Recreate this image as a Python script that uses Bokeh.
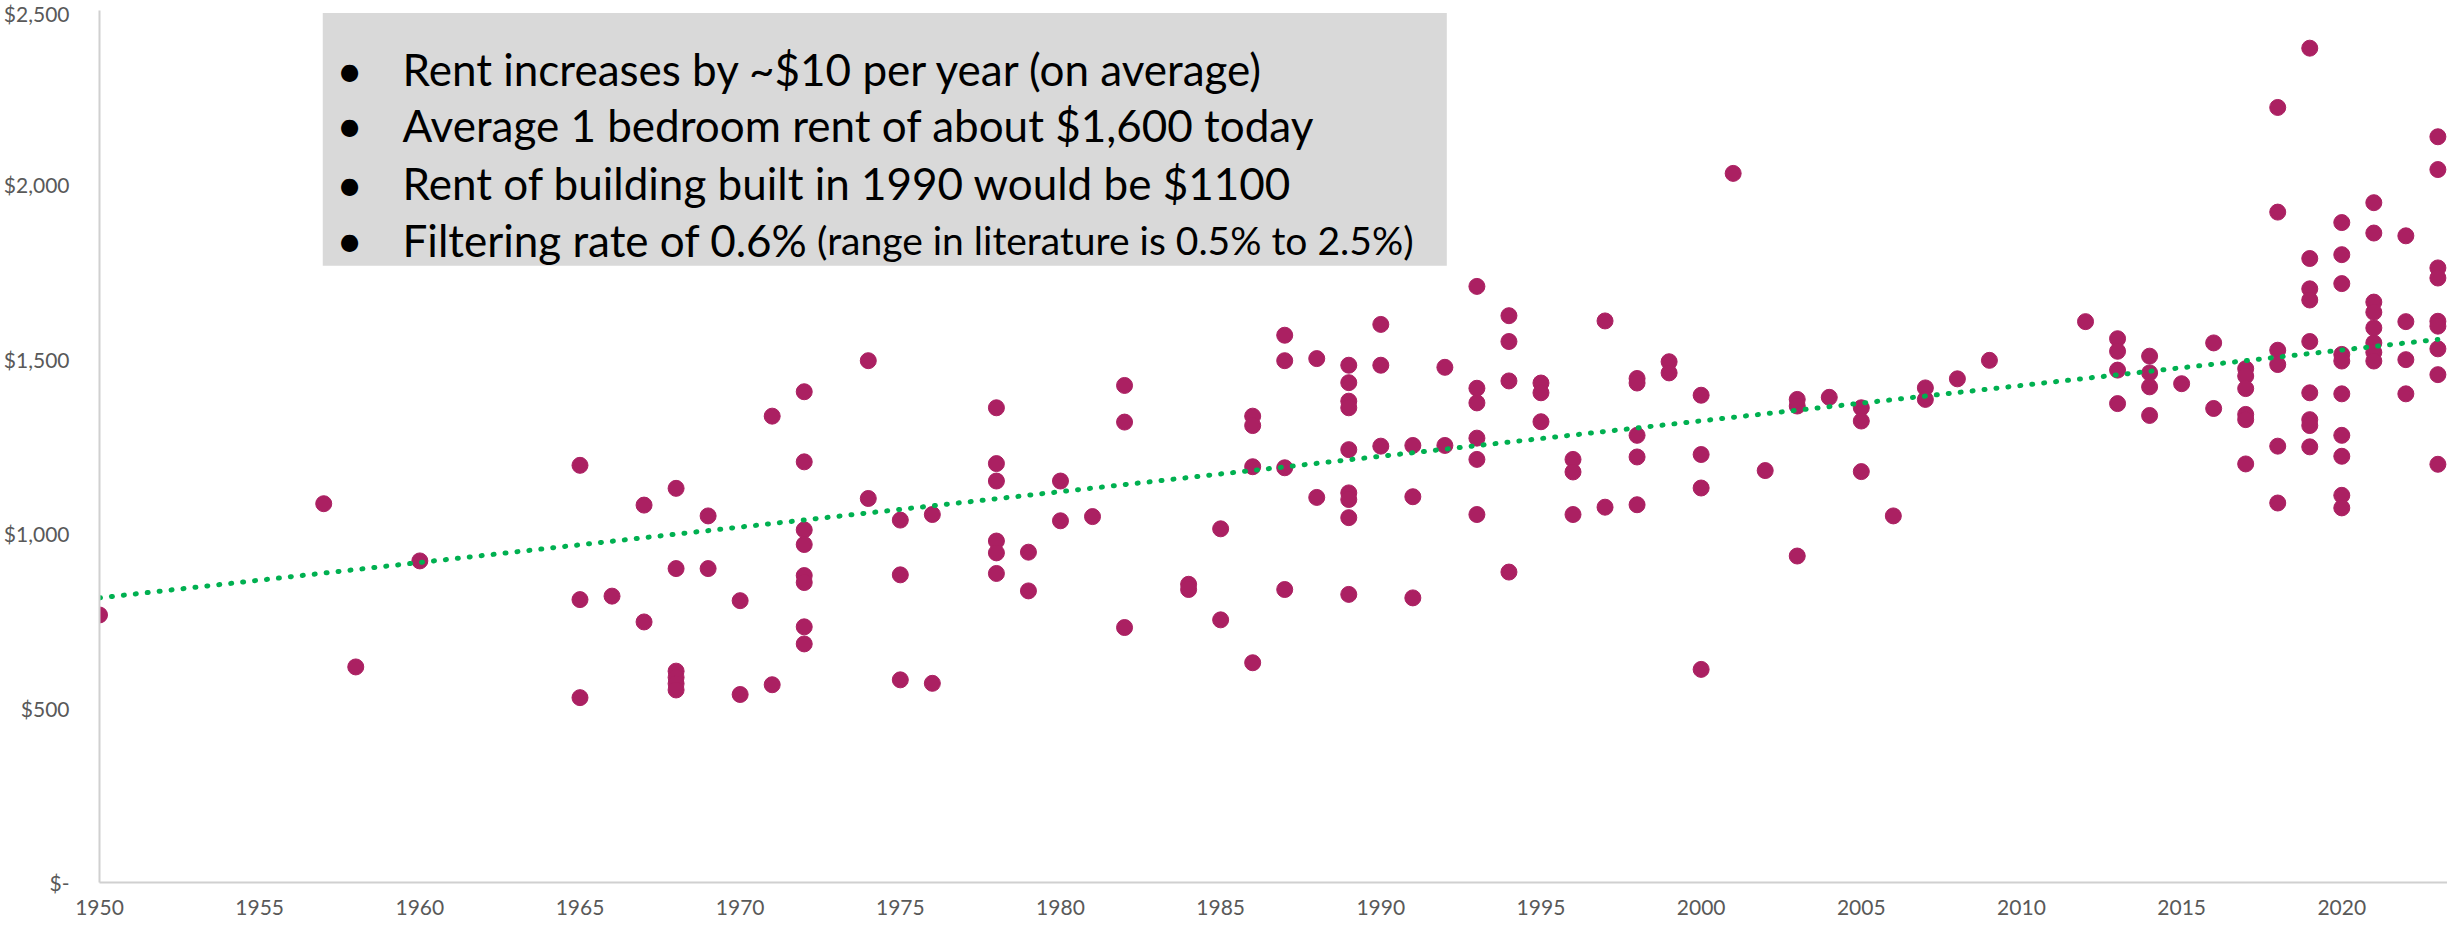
from bokeh.plotting import figure
from bokeh.models import Range1d, FixedTicker, BoxAnnotation, Label, ColumnDataSource
from bokeh.embed import file_html
from bokeh.resources import INLINE

# ---- data: build year vs. 1-bedroom rent ----
rent_by_year = {
    1950: [767],
    1957: [1086],
    1958: [618],
    1960: [922],
    1965: [1196, 811, 530],
    1966: [821],
    1967: [1082, 747],
    1968: [1130, 900, 606, 588, 570, 552],
    1969: [1051, 900],
    1970: [808, 539],
    1971: [1337, 567],
    1972: [1407, 1206, 1011, 969, 880, 860, 733, 684],
    1974: [1496, 1101],
    1975: [1039, 882, 581],
    1976: [1055, 571],
    1978: [1361, 1201, 1151, 979, 945, 886],
    1979: [947, 836],
    1980: [1151, 1037],
    1981: [1049],
    1982: [1425, 1320, 731],
    1984: [855, 840],
    1985: [1014, 753],
    1986: [1337, 1310, 1192, 630],
    1987: [1569, 1496, 1189, 840],
    1988: [1502, 1104],
    1989: [1483, 1433, 1380, 1361, 1241, 1117, 1098, 1046, 826],
    1990: [1600, 1483, 1251],
    1991: [1253, 1106, 816],
    1992: [1477, 1253],
    1993: [1709, 1417, 1375, 1274, 1213, 1055],
    1994: [1625, 1551, 1438, 890],
    1995: [1432, 1404, 1321],
    1996: [1213, 1177, 1055],
    1997: [1610, 1076],
    1998: [1445, 1432, 1282, 1220, 1083],
    1999: [1493, 1461],
    2000: [1397, 1227, 1131, 611],
    2001: [2033],
    2002: [1181],
    2003: [1385, 1366, 936],
    2004: [1391],
    2005: [1361, 1323, 1178],
    2006: [1051],
    2007: [1418, 1385],
    2008: [1444],
    2009: [1497],
    2012: [1608],
    2013: [1559, 1523, 1469, 1373],
    2014: [1509, 1461, 1421, 1339],
    2015: [1430],
    2016: [1547, 1359],
    2017: [1473, 1452, 1416, 1342, 1327, 1200],
    2018: [2222, 1922, 1526, 1485, 1251, 1088],
    2019: [2392, 1789, 1702, 1670, 1551, 1404, 1327, 1310, 1249],
    2020: [1892, 1800, 1717, 1514, 1495, 1401, 1282, 1222, 1110, 1074],
    2021: [1949, 1862, 1664, 1635, 1590, 1547, 1520, 1495],
    2022: [1854, 1608, 1499, 1401],
    2023: [2138, 2044, 1762, 1733, 1609, 1595, 1530, 1456, 1199],
}
years = [y for y, vals in rent_by_year.items() for _ in vals]
rents = [v for vals in rent_by_year.values() for v in vals]

# linear trendline as drawn in the original
trend_year = [1950, 2023]
trend_rent = [816, 1557]

x_ticks = [1950, 1955, 1960, 1965, 1970, 1975, 1980, 1985, 1990, 1995, 2000, 2005, 2010, 2015, 2020]
y_ticks = [0, 500, 1000, 1500, 2000, 2500]
y_tick_labels = ["$-", "$500", "$1,000", "$1,500", "$2,000", "$2,500"]

notes = [
    "Rent increases by ~$10 per year (on average)",
    "Average 1 bedroom rent of about $1,600 today",
    "Rent of building built in 1990 would be $1100",
    "Filtering rate of 0.6%",
]
note_small = "(range in literature is 0.5% to 2.5%)"

# ---- figure ----
p = figure(width=2447, height=918, output_backend="svg", toolbar_location=None,
           x_range=Range1d(1950, 2023.3), y_range=Range1d(0, 2500),
           min_border_left=91, min_border_right=0, min_border_top=10, min_border_bottom=36)
p.outline_line_color = None
p.xgrid.visible = False
p.ygrid.visible = False

for ax in (p.xaxis[0], p.yaxis[0]):
    ax.major_tick_line_color = None
    ax.minor_tick_line_color = None
    ax.axis_line_color = "#D0D0D0"
    ax.axis_line_width = 2
    ax.major_label_text_font = "Lato"
    ax.major_label_text_font_size = "21px"
    ax.major_label_text_color = "#595959"

p.xaxis.ticker = FixedTicker(ticks=x_ticks)
p.xaxis.major_label_standoff = 11
p.yaxis.ticker = FixedTicker(ticks=y_ticks)
p.yaxis.major_label_overrides = {t: l for t, l in zip(y_ticks, y_tick_labels)}
p.yaxis.major_label_standoff = 24

src = ColumnDataSource(dict(year=years, rent=rents))
p.scatter("year", "rent", source=src, size=16, fill_color="#AB2062", line_color="#AB2062")

p.line(trend_year, trend_rent, line_color="#00B050", line_width=5, line_dash="1 11", line_cap="round")

# note box
p.add_layout(BoxAnnotation(left=1956.97, right=1992.06, bottom=1768, top=2493,
                           fill_color="#D9D9D9", fill_alpha=1.0, line_color=None, line_alpha=0))
baselines = [2332, 2172, 2005, 1843]
for txt, yb in zip(notes, baselines):
    p.add_layout(Label(x=1957.81, y=yb, text="•", text_font="Lato", text_font_size="46px",
                       text_color="black", text_align="center", text_baseline="alphabetic"))
    p.add_layout(Label(x=1959.46, y=yb, text=txt, text_font="Lato", text_font_size="44px",
                       text_color="black", text_align="left", text_baseline="alphabetic"))
p.add_layout(Label(x=1972.40, y=baselines[3], text=note_small, text_font="Lato", text_font_size="39px",
                   text_color="black", text_align="left", text_baseline="alphabetic"))

open("out.html", "w").write(file_html(p, INLINE))
